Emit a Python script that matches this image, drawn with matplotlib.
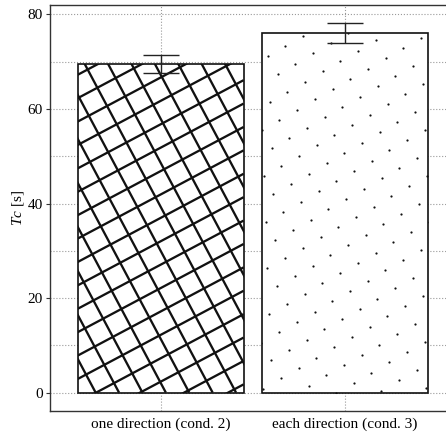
import numpy as np
import matplotlib
matplotlib.use("Agg")
import matplotlib.pyplot as plt
from matplotlib.collections import LineCollection

plt.rcParams["font.family"] = "Liberation Serif"
plt.rcParams["mathtext.fontset"] = "custom"
plt.rcParams["mathtext.it"] = "Liberation Serif:italic"
plt.rcParams["mathtext.rm"] = "Liberation Serif"

# mean completion time per condition, with standard error
conditions = ["one direction (cond. 2)", "each direction (cond. 3)"]
tc_mean = [69.6, 76.0]
tc_err = [1.9, 2.1]

DPI = 100
INK = "#111111"
SPINE = "#333333"
GRID = "#9a9a9a"

fig = plt.figure(figsize=(4.46, 4.34), dpi=DPI)
ax = fig.add_axes([0.112, 0.053, 0.9097, 0.9355])

x = np.arange(len(conditions))
bars = ax.bar(x, tc_mean, width=0.9, color="white", edgecolor=INK,
              linewidth=1.2, zorder=2)
ax.errorbar(x, tc_mean, yerr=tc_err, fmt="none", ecolor="#222222",
            elinewidth=1.0, capsize=13, capthick=1.0, zorder=4)

# freeze the limits before building the pixel-space fills
top = max(m + e for m, e in zip(tc_mean, tc_err))
ax.set_xlim(-0.6, 1.6)
ax.set_ylim(-0.05 * top, 1.05 * top)
ax.set_xticks(x)
ax.set_xticklabels(conditions, fontsize=11)
ax.set_yticks([0, 20, 40, 60, 80])
ax.set_yticks([10, 30, 50, 70], minor=True)
ax.tick_params(axis="y", which="major", length=3, color=SPINE, labelsize=11, pad=2)
ax.tick_params(axis="y", which="minor", length=0)
ax.tick_params(axis="x", length=0, pad=5)
ax.set_ylabel(r"$Tc$ [s]", fontsize=11, labelpad=1)

ax.set_axisbelow(True)
ax.grid(True, which="both", linestyle=":", color=GRID, linewidth=0.8)
for sp in ax.spines.values():
    sp.set_color(SPINE)
    sp.set_linewidth(1.0)

to_data = ax.transData.inverted()


def pixel_box(bar):
    ext = bar.get_window_extent()
    return ext.x0, ext.y0, ext.x1, ext.y1


def cross_hatch(bar, angle=28.0, step=23.4, off_up=13.5, off_down=18.0):
    """Rotated cross hatch drawn in pixel space, clipped to the bar."""
    x0, y0, x1, y1 = pixel_box(bar)
    t = np.tan(np.radians(angle))
    w, h = x1 - x0, y1 - y0
    segs = []
    # lines rising to the right
    for k in range(-int(w * t / step) - 2, int(h / step) + 2):
        ya = y0 + off_up + k * step
        segs.append([(x0, ya), (x1, ya + t * w)])
    # steep lines falling to the right
    for k in range(-2, int((w + h * t) / step) + 2):
        xa = x0 + off_down + k * step
        segs.append([(xa, y0), (xa - t * h, y1)])
    segs = [to_data.transform(np.array(s)) for s in segs]
    lc = LineCollection(segs, colors=INK, linewidths=1.65, zorder=3)
    ax.add_collection(lc, autolim=False)
    lc.set_clip_path(bar)


def dot_fill(bar, a=(45.2, 2.75), b=(17.7, 10.3), origin=(1.3, 4.0)):
    """Skewed lattice of small dots, clipped to the bar."""
    x0, y0, x1, y1 = pixel_box(bar)
    a, b = np.array(a), np.array(b)
    o = np.array([x0, y0]) + np.array(origin)
    pts = []
    for i in range(-30, 30):
        for j in range(-60, 60):
            p = o + i * a + j * b
            if x0 - 1 <= p[0] <= x1 + 1 and y0 - 1 <= p[1] <= y1 + 1:
                pts.append(p)
    pts = to_data.transform(np.array(pts))
    dots, = ax.plot(pts[:, 0], pts[:, 1], "o", ms=1.6, color=INK,
                    markeredgewidth=0, zorder=3, scalex=False, scaley=False)
    dots.set_clip_path(bar)


cross_hatch(bars[0])
dot_fill(bars[1])

fig.savefig("out.png", dpi=DPI)
